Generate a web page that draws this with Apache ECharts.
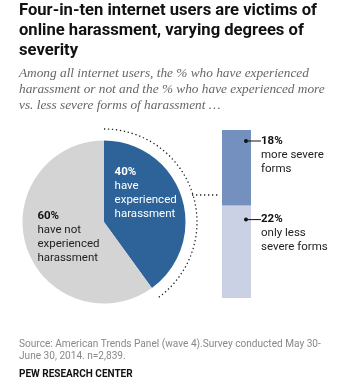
<!DOCTYPE html>
<html><head><meta charset="utf-8">
<script src="https://cdn.jsdelivr.net/npm/echarts@6/dist/echarts.min.js"></script>
<style>html,body{margin:0;padding:0;background:#fff}#c{width:362px;height:389px}</style>
</head><body><div id="c"></div>
<script>
// Data
const pieNames = ['have\nexperienced\nharassment', 'have not\nexperienced\nharassment'];
const pieValues = [40, 60];
const barCategories = ['Harassed'];
const lessSevere = [22];
const moreSevere = [18];
const barLabels = ['more severe\nforms', 'only less\nsevere forms'];

const FONT = 'Roboto, "Liberation Sans", sans-serif';
const chart = echarts.init(document.getElementById('c'), null, {renderer: 'canvas'});

const pieCx = 104, pieCy = 222, pieR = 81.5, arcR = 93;

function pctLines(v, name) {
  return '{p|' + v + '%}\n' + name.split('\n').map(s => '{t|' + s + '}').join('\n');
}
function barLabel(v, name) {
  return '{dot|}{ln|}{p|' + v + '%}\n' + name.split('\n').map(s => '{t|' + s + '}').join('\n');
}
const barRich = {
  dot: {width: 4, height: 4, borderRadius: 2, backgroundColor: '#111', verticalAlign: 'middle'},
  ln: {width: 13, height: 1, backgroundColor: '#111', verticalAlign: 'middle'},
  p: {fontFamily: FONT, fontSize: 11.5, fontWeight: 'bold', color: '#111', lineHeight: 14, verticalAlign: 'middle'},
  t: {fontFamily: FONT, fontSize: 11.5, color: '#222', lineHeight: 14, padding: [0, 0, 0, 17]}
};

chart.setOption({
  animation: false,
  title: [
    {text: 'Four-in-ten internet users are victims of\nonline harassment, varying degrees of\nseverity',
     left: 19, top: 1, padding: 0,
     textStyle: {fontFamily: FONT, fontSize: 16.6, fontWeight: 'bold', color: '#111', lineHeight: 20}},
    {text: 'Among all internet users, the % who have experienced\nharassment or not and the % who have experienced more\nvs. less severe forms of harassment \u2026',
     left: 19, top: 66, padding: 0,
     textStyle: {fontFamily: '"Liberation Serif", serif', fontStyle: 'italic', fontSize: 13.3, fontWeight: 'normal', color: '#666', lineHeight: 16}},
    {text: 'Source: American Trends Panel (wave 4).Survey conducted May 30-\nJune 30, 2014. n=2,839.',
     left: 19, top: 338, padding: 0,
     textStyle: {fontFamily: FONT, fontSize: 10.1, fontWeight: 'normal', color: '#888', lineHeight: 12}},
    {text: 'PEW RESEARCH CENTER',
     left: 19, top: 368, padding: 0,
     textStyle: {fontFamily: FONT, fontSize: 10, fontWeight: 'bold', color: '#111', lineHeight: 12}}
  ],
  grid: {left: 222, top: 130, width: 29, height: 168},
  xAxis: {type: 'category', data: barCategories, show: false},
  yAxis: {type: 'value', min: 0, max: lessSevere[0] + moreSevere[0], show: false},
  graphic: [
    {type: 'arc', silent: true, z: 10,
     shape: {cx: pieCx, cy: pieCy, r: arcR, startAngle: -Math.PI / 2, endAngle: -Math.PI / 2 + 2 * Math.PI * pieValues[0] / 100, clockwise: true},
     style: {stroke: '#222', lineWidth: 1.3, lineDash: [1.3, 2.7], fill: null}},
    {type: 'line', silent: true, z: 10,
     shape: {x1: 192, y1: 195, x2: 218, y2: 195},
     style: {stroke: '#222', lineWidth: 1.3, lineDash: [1.3, 2.7]}}
  ],
  series: [
    {type: 'pie', center: [pieCx, pieCy], radius: [0, pieR], startAngle: 90, clockwise: true,
     silent: true, emphasis: {disabled: true},
     data: [
       {value: pieValues[0], name: pieNames[0], itemStyle: {color: '#2d6399'},
        label: {offset: [0, -15.5], rich: {
          p: {fontFamily: FONT, fontSize: 11.5, fontWeight: 'bold', color: '#fff', lineHeight: 14, width: 62, align: 'left'},
          t: {fontFamily: FONT, fontSize: 11.5, color: '#fff', lineHeight: 14, width: 62, align: 'left'}}}},
       {value: pieValues[1], name: pieNames[1], itemStyle: {color: '#d4d4d4'},
        label: {offset: [6, 1.5], rich: {
          p: {fontFamily: FONT, fontSize: 11.5, fontWeight: 'bold', color: '#111', lineHeight: 14, width: 62, align: 'left'},
          t: {fontFamily: FONT, fontSize: 11.5, color: '#222', lineHeight: 14, width: 62, align: 'left'}}}}
     ],
     label: {show: true, position: 'inside', formatter: p => pctLines(p.value, p.name)},
     labelLine: {show: false}},
    {type: 'bar', stack: 'h', data: lessSevere, barWidth: '100%', silent: true,
     itemStyle: {color: '#cbd1e5'},
     label: {show: true, position: [22, 7], align: 'left', verticalAlign: 'top',
             formatter: p => barLabel(p.value, barLabels[1]), rich: barRich}},
    {type: 'bar', stack: 'h', data: moreSevere, barWidth: '100%', silent: true,
     itemStyle: {color: '#7490bf'},
     label: {show: true, position: [22, 4], align: 'left', verticalAlign: 'top',
             formatter: p => barLabel(p.value, barLabels[0]), rich: barRich}}
  ]
});
</script></body></html>
